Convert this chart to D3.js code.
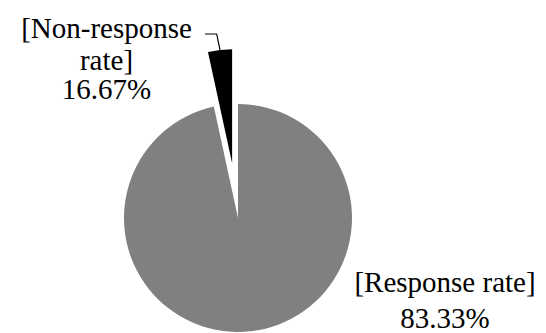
<!DOCTYPE html>
<html>
<head>
<meta charset="utf-8">
<script src="https://cdn.jsdelivr.net/npm/d3@7"></script>
<style>
  html, body { margin: 0; padding: 0; background: #fff; }
</style>
</head>
<body>
<div id="chart"></div>
<script>
// Data
const categories = ["Response rate", "Non-response rate"];
const sliceValues = [96.6, 3.4]; // drawn proportions as seen in the picture
const percentLabels = ["83.33%", "16.67%"];
const sliceColors = ["#808080", "#000000"];

// Layout
const width = 546;
const height = 333;
const cx = 238;
const cy = 218;
const radius = 114;
const explode = 55; // pull-out of the small slice
const fontSize = 29; // serif face is only picked up to 29px here

const svg = d3.select("#chart").append("svg")
  .attr("width", width)
  .attr("height", height)
  .attr("viewBox", [0, 0, width, height]);

const pie = d3.pie().sort(null).value(d => d);
const arcs = pie(sliceValues);
const arc = d3.arc().innerRadius(0).outerRadius(radius);

// offset for each slice (only the small one is pulled out)
const offset = (d, i) => {
  if (i !== 1) return [0, 0];
  const a = (d.startAngle + d.endAngle) / 2;
  return [Math.sin(a) * explode, -Math.cos(a) * explode];
};

const g = svg.append("g").attr("transform", `translate(${cx},${cy})`);

g.selectAll("path")
  .data(arcs)
  .join("path")
  .attr("transform", (d, i) => `translate(${offset(d, i)})`)
  .attr("fill", (d, i) => sliceColors[i])
  .attr("d", arc);

// leader line to the pulled-out slice
const small = arcs[1];
const mid = (small.startAngle + small.endAngle) / 2;
const [ox, oy] = offset(small, 1);
const tipX = cx + ox + Math.sin(mid) * radius;
const tipY = cy + oy - Math.cos(mid) * radius;
svg.append("path")
  .attr("d", d3.line()([[205, 34], [tipX - 3.3, 34], [tipX, tipY]]))
  .attr("fill", "none")
  .attr("stroke", "#000")
  .attr("stroke-width", 1.2);

// labels: one text element per line, no tspans
function label(x, lines, baselines) {
  lines.forEach((s, i) => {
    svg.append("text")
      .attr("x", x)
      .attr("y", baselines[i])
      .attr("text-anchor", "middle")
      .attr("font-family", "Liberation Serif")
      .attr("font-size", fontSize)
      .attr("fill", "#000")
      .text(s);
  });
}

label(106.5, ["[Non-response", "rate]", percentLabels[1]], [38, 70, 99]);
label(445, ["[" + categories[0] + "]", percentLabels[0]], [292, 328]);
</script>
</body>
</html>
